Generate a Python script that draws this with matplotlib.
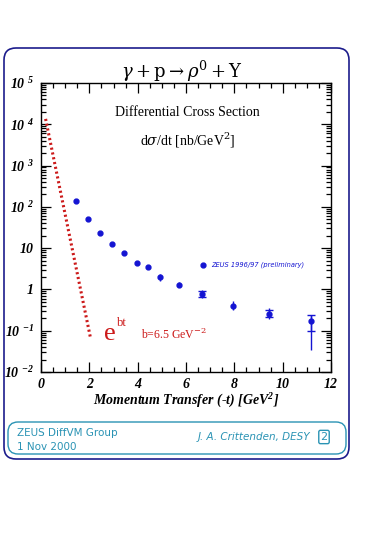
import numpy as np
import matplotlib
matplotlib.use("Agg")
import matplotlib.pyplot as plt
from matplotlib.patches import FancyBboxPatch
from matplotlib.ticker import FixedLocator, LogLocator, MultipleLocator, NullFormatter

plt.rcParams['mathtext.fontset'] = 'custom'
plt.rcParams['mathtext.rm'] = 'Liberation Serif:bold:italic'
plt.rcParams['mathtext.it'] = 'Liberation Serif:bold:italic'

# ZEUS 1996/97 (preliminary) d(sigma)/dt values
t_vals = [1.45, 1.94, 2.44, 2.95, 3.45, 3.96, 4.44, 4.94, 5.70, 6.67, 7.94, 9.42, 11.18]
sigma = [138, 50, 23.6, 12.3, 7.6, 4.4, 3.5, 1.96, 1.31, 0.78, 0.40, 0.26, 0.17]
err_up = [0, 0, 0, 0, 0, 0, 0.5, 0.45, 0.24, 0.20, 0.12, 0.10, 0.07]
err_dn = [0, 0, 0, 0, 0, 0, 0.4, 0.35, 0.19, 0.16, 0.09, 0.07, 0.136]
# inner (statistical) error ticks for the last points
stat_t = [6.67, 9.42, 11.18]
stat_y = [0.78, 0.26, 0.17]
stat_up = [0.14, 0.05, 0.07]
stat_dn = [0.11, 0.04, 0.072]

# exponential slope b = 6.5 GeV^-2 line endpoints
fit_t = [0.19, 2.05]
fit_y = [1.35e4, 0.066]

xticks = [0, 2, 4, 6, 8, 10, 12]
yticks = [1e-2, 1e-1, 1, 10, 1e2, 1e3, 1e4, 1e5]
ylabels = ['10 $^{-2}$', '10 $^{-1}$', '1', '10', '10 $^{2}$', '10 $^{3}$', '10 $^{4}$', '10 $^{5}$']

W, H = 365, 535
fig = plt.figure(figsize=(W / 100, H / 100), dpi=100)
fig.patch.set_facecolor('white')

navy = '#1c1c8c'
teal = '#2a93b4'
blue = '#1414d2'
red = '#cc1a1a'


def px(x, y):
    return x / W, 1 - y / H


# outer and inner rounded frames (pixel coordinates, origin at bottom left)
outer = FancyBboxPatch((4, H - 459), 345, 459 - 48, boxstyle="round,pad=0,rounding_size=12",
                       transform=None, fill=False, ec=navy, lw=1.2)
inner = FancyBboxPatch((8, H - 454), 338, 454 - 422, boxstyle="round,pad=0,rounding_size=10",
                       transform=None, fill=False, ec=teal, lw=1.0)
fig.patches.extend([outer, inner])

ax = fig.add_axes([41 / W, 1 - 372 / H, 290 / W, 289 / H])
ax.set_xlim(0, 12)
ax.set_yscale('log')
ax.set_ylim(1e-2, 1e5)

ax.plot(fit_t, fit_y, color=red, lw=2.2, linestyle=(0, (0.7, 0.9)))

ax.errorbar(t_vals, sigma, yerr=[err_dn, err_up], fmt='o', ms=3.5, color=blue,
            ecolor=blue, elinewidth=1, capsize=0)
ax.errorbar(stat_t, stat_y, yerr=[stat_dn, stat_up], fmt='none', ecolor=blue,
            elinewidth=1, capsize=3, capthick=1)

# legend entry
ax.plot([6.7], [4.0], 'o', ms=3.5, color=blue)
ax.text(7.05, 4.0, 'ZEUS 1996/97 (preliminary)', color=blue, fontsize=4.8,
        style='italic', va='center', family='DejaVu Sans')

ax.text(0.505, 0.897, 'Differential Cross Section', transform=ax.transAxes,
        ha='center', va='center', fontsize=10, family='Liberation Serif')
ax.text(0.505, 0.803, r'd$\sigma$/dt [nb/GeV$^{2}$]', transform=ax.transAxes,
        ha='center', va='center', fontsize=10, family='Liberation Serif',
        math_fontfamily='dejavuserif')

fig.text(*px(104, 340), 'e', color=red, fontsize=19, family='Liberation Serif', va='baseline')
fig.text(*px(117, 326), 'bt', color=red, fontsize=9, family='Liberation Serif', va='baseline')
fig.text(*px(141, 339), 'b=6.5 GeV$^{-2}$', color=red, fontsize=8.5, family='Liberation Serif',
         va='baseline', math_fontfamily='dejavuserif')

ax.xaxis.set_major_locator(FixedLocator(xticks))
ax.xaxis.set_minor_locator(MultipleLocator(0.5))
ax.yaxis.set_major_locator(FixedLocator(yticks))
ax.yaxis.set_minor_locator(LogLocator(base=10, subs=np.arange(2, 10), numticks=20))
ax.yaxis.set_minor_formatter(NullFormatter())
ax.set_xticklabels([str(v) for v in xticks])
ax.set_yticklabels(ylabels)
for lab in ax.get_xticklabels() + ax.get_yticklabels():
    lab.set_family('Liberation Serif')
    lab.set_weight('bold')
    lab.set_style('italic')
    lab.set_fontsize(10)
ax.tick_params(which='both', direction='in', top=True, right=True, width=0.9)
ax.tick_params(which='major', length=7)
ax.tick_params(which='minor', length=3.5)
ax.tick_params(axis='y', pad=5)
ax.tick_params(axis='x', pad=4)
for s in ax.spines.values():
    s.set_linewidth(1.0)

ax.set_xlabel('Momentum Transfer (-t) [GeV$^{2}$]', family='Liberation Serif',
              weight='bold', style='italic', fontsize=10, labelpad=1)

fig.text(*px(182, 71), r'$\gamma + \mathrm{p} \rightarrow \rho^{0} + \mathrm{Y}$',
         ha='center', va='center', fontsize=13, math_fontfamily='dejavuserif')

fig.text(*px(17, 433), 'ZEUS DiffVM Group', color=teal, fontsize=7.5,
         va='center', family='DejaVu Sans')
fig.text(*px(17, 447), '1 Nov 2000', color=teal, fontsize=7.5,
         va='center', family='DejaVu Sans')
fig.text(*px(310, 437), 'J. A. Crittenden, DESY', color=teal, fontsize=7.5,
         va='center', ha='right', style='italic', family='DejaVu Sans')
fig.text(*px(324, 437), '2', color=teal, fontsize=8, va='center', ha='center',
         family='DejaVu Sans',
         bbox=dict(boxstyle='round,pad=0.15', fc='white', ec=teal, lw=1))

fig.savefig('out.png', dpi=100)
